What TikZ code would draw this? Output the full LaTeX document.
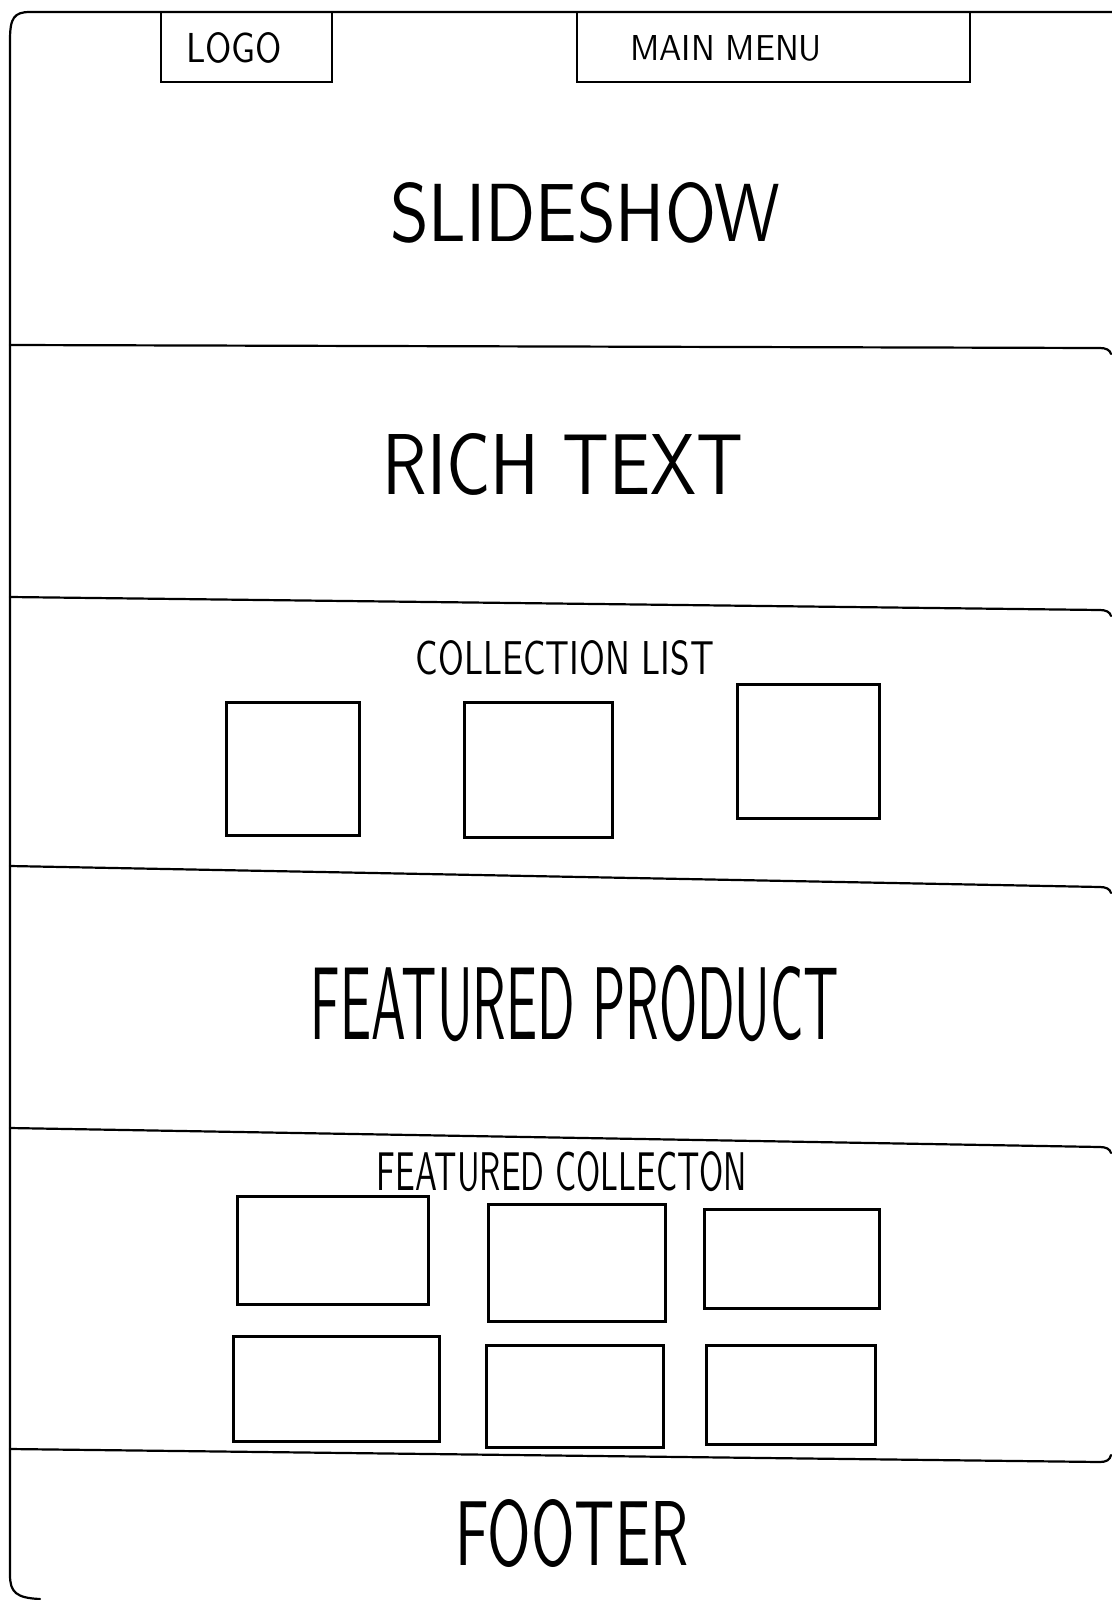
\documentclass[tikz,border=0pt]{standalone}
\usepackage{graphicx}
\tikzset{
  frameline/.style={line width=1.1pt, line cap=round, line join=round},
  sketchbox/.style={draw, rectangle, line width=1.5pt, inner sep=0pt},
  topbox/.style={draw, rectangle, line width=1pt, inner sep=0pt},
  label/.style={inner sep=0pt, font=\sffamily}
}
\newcommand{\fitlabel}[3]{\resizebox{#1}{#2}{#3}}
\begin{document}
\begin{tikzpicture}[x=0.5pt,y=-0.5pt]
\useasboundingbox[fill=white] (0,0) rectangle (1112,1600);

% outer frame
\draw[frameline] (1112,12) -- (30,12) .. controls (14,12) and (10,18) .. (10,40)
  -- (10,1575) .. controls (10,1592) and (16,1598) .. (40,1599);
% dividers
\draw[frameline] (10,345) -- (1100,348) .. controls (1106,348) and (1110,350) .. (1111,354);
\draw[frameline] (10,597) -- (1100,610) .. controls (1106,610) and (1110,612) .. (1111,616);
\draw[frameline] (10,866) -- (1100,887) .. controls (1106,887) and (1110,889) .. (1111,893);
\draw[frameline] (10,1128) -- (1100,1147) .. controls (1106,1147) and (1110,1149) .. (1111,1153);
\draw[frameline] (10,1449) -- (1100,1462) .. controls (1106,1462) and (1110,1460) .. (1111,1455);

% header boxes
\node[topbox, minimum width=85.5pt, minimum height=35pt] (logo) at (246.5,47) {};
\node[topbox, minimum width=196.5pt, minimum height=35pt] (menu) at (773.5,47) {};
\node[label] (logotext) at (234,48) {\fitlabel{48pt}{15pt}{LOGO}};
\node[label] (menutext) at (726,48) {\fitlabel{96pt}{12.5pt}{MAIN MENU}};

% section titles
\node[label] (slideshow) at (585,213) {\fitlabel{195pt}{29.5pt}{SLIDESHOW}};
\node[label] (richtext) at (563,464) {\fitlabel{180pt}{30.5pt}{RICH TEXT}};
\node[label] (collist) at (565,658) {\fitlabel{149pt}{17pt}{COLLECTION LIST}};
\node[label] (featprod) at (575,1004) {\fitlabel{264pt}{37pt}{FEATURED PRODUCT}};
\node[label] (featcol) at (562,1172) {\fitlabel{185pt}{19.5pt}{FEATURED COLLECTON}};
\node[label] (footer) at (572,1533) {\fitlabel{116.5pt}{33pt}{FOOTER}};

% collection list squares
\node[sketchbox, minimum width=66.5pt, minimum height=66.5pt] (c1) at (292.5,768.5) {};
\node[sketchbox, minimum width=74pt, minimum height=67.5pt] (c2) at (538,769.5) {};
\node[sketchbox, minimum width=71pt, minimum height=67pt] (c3) at (808,751) {};

% featured collection rectangles
\node[sketchbox, minimum width=95.5pt, minimum height=54pt] (r1) at (332.5,1250) {};
\node[sketchbox, minimum width=88.5pt, minimum height=58.5pt] (r2) at (576.5,1262.5) {};
\node[sketchbox, minimum width=87.5pt, minimum height=49.5pt] (r3) at (791.5,1258.5) {};
\node[sketchbox, minimum width=103pt, minimum height=52.5pt] (r4) at (336,1388.5) {};
\node[sketchbox, minimum width=88.5pt, minimum height=51pt] (r5) at (574.5,1396) {};
\node[sketchbox, minimum width=84.5pt, minimum height=49.5pt] (r6) at (790.5,1394.5) {};
\end{tikzpicture}
\end{document}
